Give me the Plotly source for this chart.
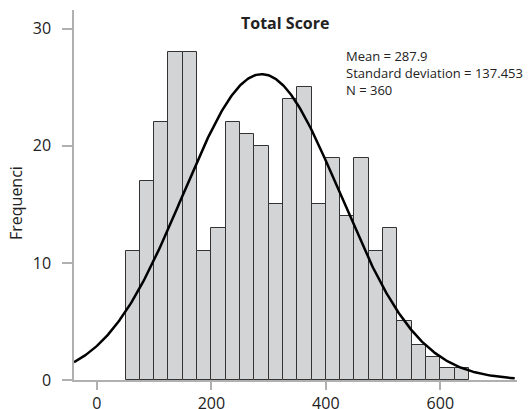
import numpy as np
import plotly.graph_objects as go

bin_left = [50, 75, 100, 125, 150, 175, 200, 225, 250, 275, 300, 325,
            350, 375, 400, 425, 450, 475, 500, 525, 550, 575, 600, 625]
counts = [11, 17, 22, 28, 28, 11, 13, 22, 21, 20, 15, 24,
          25, 15, 19, 14, 19, 11, 13, 5, 3, 2, 1, 1]
bin_width = 25
mean = 287.9
sd = 137.453
n = 360
x_ticks = [0, 200, 400, 600]
y_ticks = [0, 10, 20, 30]

centers = [b + bin_width / 2 for b in bin_left]
xs = np.linspace(-40, 730, 400)
ys = n * bin_width / (sd * np.sqrt(2 * np.pi)) * np.exp(-0.5 * ((xs - mean) / sd) ** 2)

font = "Open Sans, Noto Sans, sans-serif"
W, H = 531, 409
L, R, T, B = 74, 14, 10, 29
pw, ph = W - L - R, H - T - B


def px(x):
    return (x - L) / pw


def py(y):
    return (H - B - y) / ph


fig = go.Figure()
fig.add_trace(go.Bar(
    x=centers, y=counts, width=bin_width,
    marker=dict(color="#d3d4d6", line=dict(color="#333333", width=1)),
    showlegend=False, hoverinfo="skip"))
fig.add_trace(go.Scatter(
    x=xs, y=ys, mode="lines", line=dict(color="black", width=2.5),
    showlegend=False, hoverinfo="skip"))

fig.update_layout(
    width=W, height=H,
    margin=dict(l=L, r=R, t=T, b=B, autoexpand=False),
    plot_bgcolor="white", paper_bgcolor="white",
    font=dict(family=font, size=16, color="#222222"),
    bargap=0,
    annotations=[
        dict(text="<b>Total Score</b>", x=px(284.5), y=py(23.5), xref="paper", yref="paper",
             xanchor="center", yanchor="middle",
             showarrow=False, font=dict(size=16)),
        dict(text="Mean = 287.9<br>Standard deviation = 137.453<br>N = 360",
             x=px(344), y=py(45), xref="paper", yref="paper",
             xanchor="left", yanchor="top", align="left",
             showarrow=False, font=dict(size=13)),
        dict(text="Frequenci", x=px(16), y=py(203), xref="paper", yref="paper",
             xanchor="center", yanchor="middle", textangle=-90,
             showarrow=False, font=dict(size=16)),
    ],
)

fig.update_xaxes(
    range=[-40, 734], tickvals=x_ticks, showgrid=False, zeroline=False,
    showline=True, linecolor="#b0b0b0", linewidth=1.5, automargin=False,
    ticks="outside", ticklen=8, tickcolor="#b0b0b0", tickwidth=1.5,
    tickfont=dict(size=16, color="#222222"))
fig.update_yaxes(
    range=[0, 31.6], tickvals=y_ticks, showgrid=False, zeroline=False,
    showline=True, linecolor="#b0b0b0", linewidth=1.5, automargin=False,
    ticks="outside", ticklen=10, tickcolor="#b0b0b0", tickwidth=1.5,
    tickfont=dict(size=16, color="#222222"),
    ticklabelstandoff=8)

fig.write_html("out.html", config={"displayModeBar": False},
               post_script="document.body.style.margin='0';")
